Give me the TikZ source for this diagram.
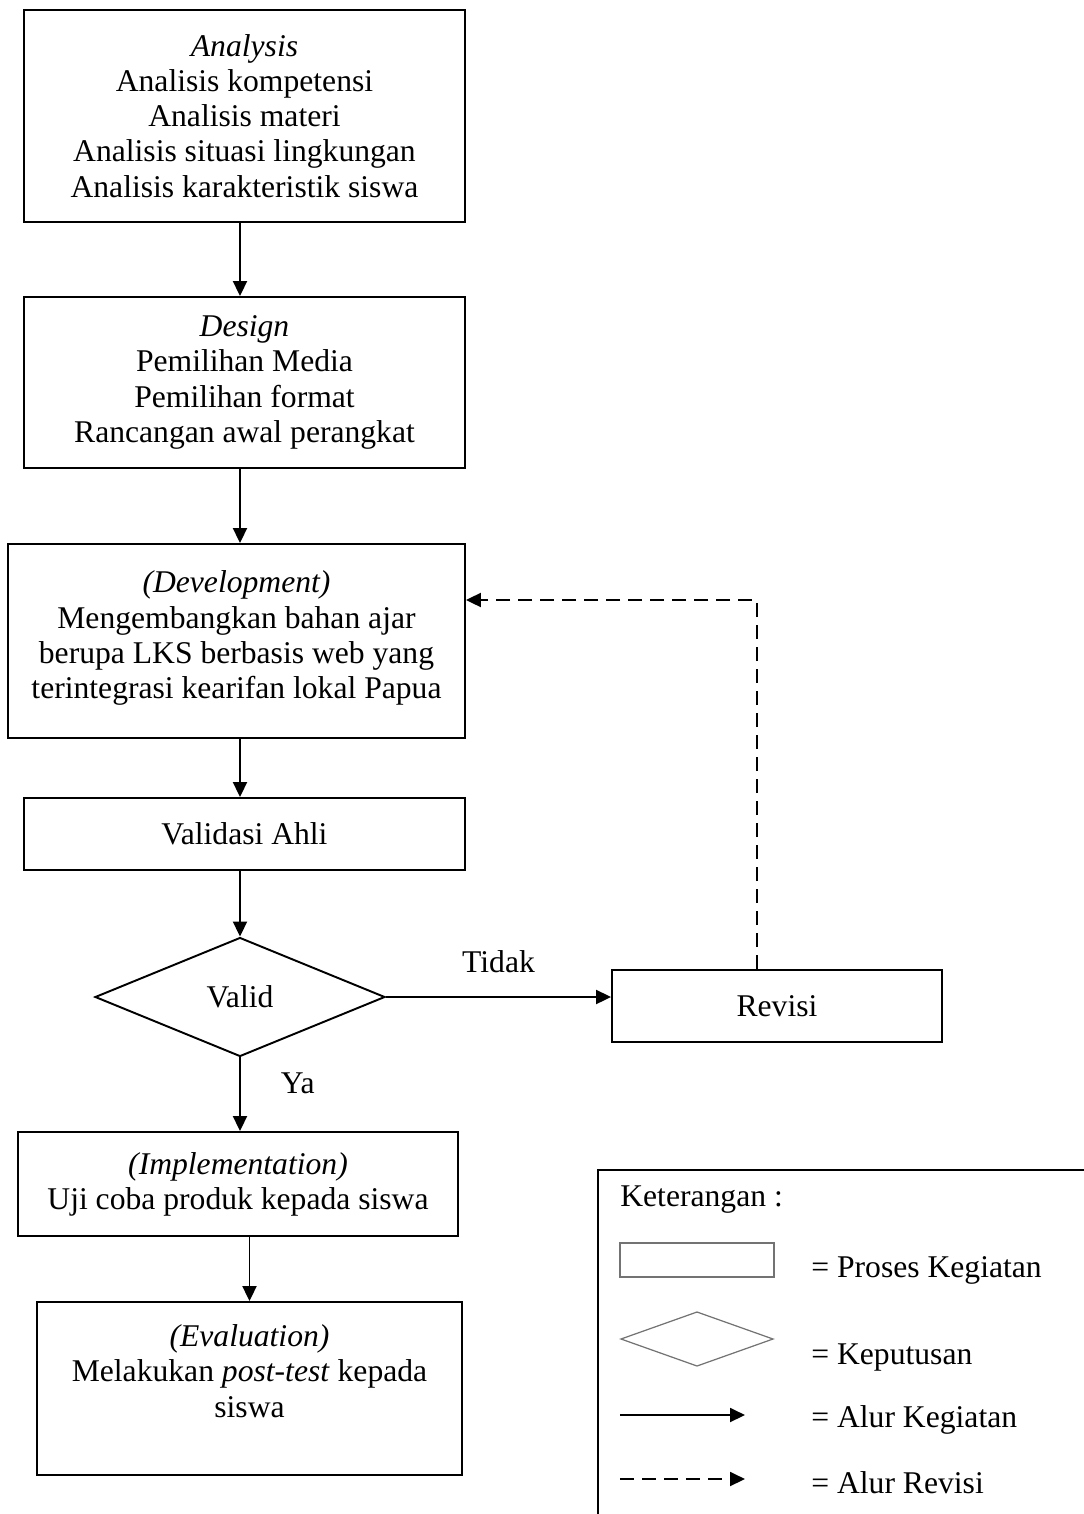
\documentclass[tikz,border=0pt]{standalone}
\usepackage{fontspec}
\setmainfont{Liberation Serif}
\usetikzlibrary{shapes.geometric,arrows.meta}

\tikzset{
  kotak/.style={draw, line width=1.1pt, align=center, inner sep=0pt, font=\fontsize{18}{20}\selectfont},
  putusan/.style={draw, shape=diamond, aspect=2.4, line width=1.1pt, inner sep=0pt, font=\fontsize{18}{20}\selectfont},
  alur/.style={line width=1.1pt, -{Triangle[length=0.3cm,width=0.28cm]}},
  alurrev/.style={alur, dash pattern=on 0.28cm off 0.16cm},
  teks/.style={inner sep=0pt, font=\fontsize{18}{20}\selectfont},
  contoh/.style={draw=black!55, line width=0.7pt},
}

\begin{document}
\begin{tikzpicture}[x=0.02cm,y=-0.02cm]
  \useasboundingbox (0,0) rectangle (1083,1514);

  % tahapan ADDIE
  \node[kotak, minimum width=8.82cm, minimum height=4.24cm] (analysis) at (244.5,116)
    {\textit{Analysis}\\Analisis kompetensi\\Analisis materi\\Analisis situasi lingkungan\\Analisis karakteristik siswa};
  \node[kotak, minimum width=8.82cm, minimum height=3.42cm] (design) at (244.5,382.5)
    {\textit{Design}\\Pemilihan Media\\Pemilihan format\\Rancangan awal perangkat};
  \node[kotak, minimum width=9.14cm, minimum height=3.88cm] (dev) at (236.5,641)
    {\textit{(Development)}\\Mengembangkan bahan ajar\\berupa LKS berbasis web yang\\terintegrasi kearifan lokal Papua\\[-0.45cm]~};
  \node[kotak, minimum width=8.82cm, minimum height=1.44cm] (validasi) at (244.5,834) {Validasi Ahli};
  \node[putusan, minimum width=5.8cm, minimum height=2.38cm] (valid) at (240,997) {Valid};
  \node[kotak, minimum width=6.6cm, minimum height=1.44cm] (revisi) at (777,1006) {Revisi};
  \node[kotak, minimum width=8.8cm, minimum height=2.08cm] (impl) at (238,1184)
    {\textit{(Implementation)}\\Uji coba produk kepada siswa};
  \node[kotak, minimum width=8.5cm, minimum height=3.46cm] (eval) at (249.5,1388.5)
    {\textit{(Evaluation)}\\Melakukan \textit{post-test} kepada\\siswa\\~};

  % alur kegiatan
  \draw[alur] (analysis.south -| valid) -- (design.north -| valid);
  \draw[alur] (design.south -| valid) -- (dev.north -| valid);
  \draw[alur] (dev.south -| valid) -- (validasi.north -| valid);
  \draw[alur] (validasi.south -| valid) -- (valid.north);
  \draw[alur] (valid.east) -- (valid.east -| revisi.west) node[teks, midway, above=13pt] {Tidak};
  \draw[alur] (valid.south) -- (impl.north -| valid.south) node[teks, pos=0.35, right=0.8cm] {Ya};
  \draw[alur] (impl.south -| eval.north) -- (eval.north);

  % alur revisi
  \coordinate (belok) at (757,600);
  \draw[alurrev] (revisi.north -| belok) -- (belok) -- (belok -| dev.east);

  % keterangan
  \draw[line width=1.1pt] (598,1530) -- (598,1170) -- (1100,1170);
  \node[teks, anchor=west] (ket) at (620,1200) {Keterangan :};
  \draw[contoh] (620,1243) rectangle (774,1277);
  \node[teks, anchor=west] (ketproses) at (811,1270) {= Proses Kegiatan};
  \draw[contoh] (621,1339) -- (697,1312) -- (773,1339) -- (697,1366) -- cycle;
  \node[teks, anchor=west] (ketputusan) at (811,1357) {= Keputusan};
  \draw[alur] (620,1415) -- (745,1415);
  \node[teks, anchor=west] (ketalur) at (811,1420) {= Alur Kegiatan};
  \draw[alurrev] (620,1479) -- (745,1479);
  \node[teks, anchor=west] (ketrevisi) at (811,1483) {= Alur Revisi};
\end{tikzpicture}
\end{document}
